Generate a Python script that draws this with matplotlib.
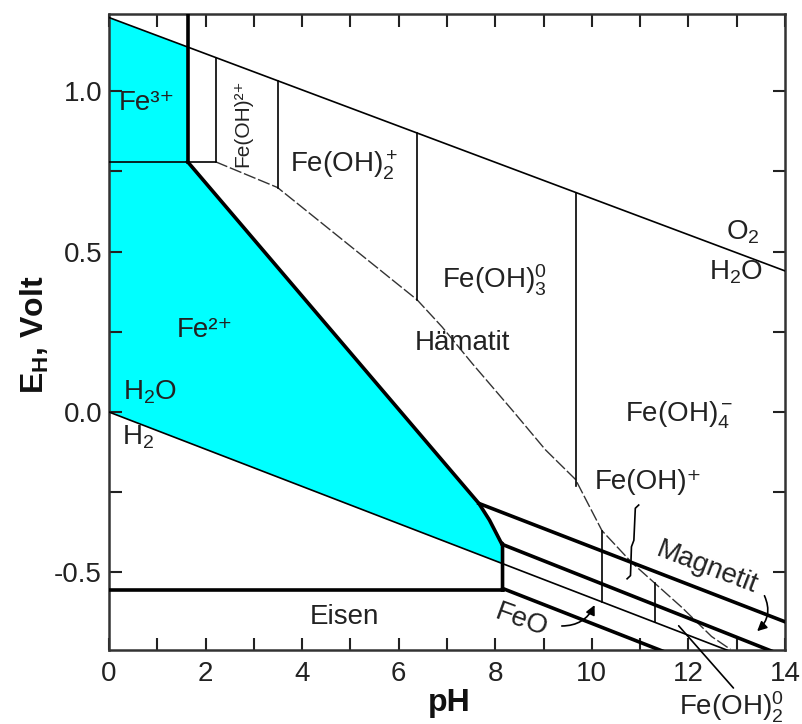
import matplotlib
matplotlib.use("Agg")
import matplotlib.pyplot as plt
import numpy as np

plt.rcParams['font.family'] = ['Liberation Sans', 'DejaVu Sans']
plt.rcParams['mathtext.fontset'] = 'custom'
plt.rcParams['mathtext.rm'] = 'Liberation Sans'
plt.rcParams['mathtext.it'] = 'Liberation Sans:italic'
plt.rcParams['mathtext.bf'] = 'Liberation Sans:bold'

# ---------------- data (pH, E_H in Volt) ----------------
o2_ph = [0, 14]
o2_e = [1.23, 0.44]
h2_ph = [0, 14]
h2_e = [0.0, -0.812]

fe3_fe2_ph = [0, 2.21]
fe3_fe2_e = [0.78, 0.78]

fe3_vert_ph = 1.63          # Fe3+ / Fe(OH)2+ thick boundary
fe3_vert_e = [0.78, 1.24]

fe2_bound_ph = [1.63, 7.66, 7.88, 8.13, 8.15, 8.15]
fe2_bound_e = [0.78, -0.285, -0.337, -0.41, -0.41, -0.555]

eisen_ph = [0, 8.15]
eisen_e = [-0.555, -0.555]

hem_ph = [2.21, 3.49, 6.38, 6.9, 7.53, 8.35, 9.04, 9.66, 10.21, 10.83, 11.87, 12.48, 12.87]
hem_e = [0.78, 0.70, 0.35, 0.265, 0.15, 0.006, -0.118, -0.21, -0.37, -0.47, -0.61, -0.70, -0.74]

upper_vert_ph = [2.21, 3.49, 6.38, 9.67]
upper_vert_bottom = [0.78, 0.70, 0.35, -0.23]

lower_vert_ph = [10.21, 11.3]
lower_vert_top = [-0.37, -0.533]

magA_ph = [7.66, 14]
magA_e = [-0.285, -0.654]
magB_ph = [8.15, 14]
magB_e = [-0.413, -0.762]
feoD_ph = [8.15, 14]
feoD_e = [-0.55, -0.895]

# cyan regions
fe3_region_ph = [0, 1.63, 1.63, 0]
fe3_region_e = [0.78, 0.78, 1.138, 1.23]

# labels
labels = [
    ('Fe³⁺', 0.78, 0.964, 0, 20),
    ('Fe²⁺', 1.98, 0.256, 0, 20),
    ('Fe(OH)²⁺', 2.77, 0.90, 90, 15),
    ('Fe(OH)$_2^+$', 4.88, 0.77, 0, 20),
    ('Fe(OH)$_3^0$', 7.98, 0.41, 0, 20),
    ('Hämatit', 7.31, 0.215, 0, 20),
    ('Fe(OH)$_4^-$', 11.8, -0.01, 0, 20),
    ('Fe(OH)⁺', 11.18, -0.218, 0, 20),
    ('Magnetit', 12.38, -0.487, -21, 20),
    ('FeO', 8.55, -0.65, -20, 20),
    ('Eisen', 4.88, -0.64, 0, 20),
    ('O$_2$', 13.12, 0.56, 0, 20),
    ('H$_2$O', 12.98, 0.437, 0, 20),
    ('H$_2$O', 0.85, 0.062, 0, 20),
    ('H$_2$', 0.6, -0.08, 0, 20),
]
feoh20_label = ('Fe(OH)$_2^0$', 12.9, -0.92)

# annotation leaders
feo_arrow = ((9.32, -0.667), (10.08, -0.594))
mag_arrow = ((13.55, -0.565), (13.38, -0.689))
feoh_bracket_ph = [10.97, 10.9, 10.87, 10.82, 10.80, 10.73]
feoh_bracket_e = [-0.29, -0.30, -0.40, -0.42, -0.51, -0.52]
feoh20_leader = ((11.76, -0.66), (12.97, -0.867))

# ---------------- figure ----------------
fig = plt.figure(figsize=(8.03, 7.24), dpi=100)
ax = fig.add_axes([109/803, 1-650/724, (785-109)/803, (650-14)/724])
ax.set_xlim(0, 14)
ax.set_ylim(-0.742, 1.241)

cyan = '#00FFFF'
ax.fill(fe3_region_ph, fe3_region_e, color=cyan, lw=0, zorder=1)
h2_at = lambda p: np.interp(p, h2_ph, h2_e)
reg_ph = [0] + fe2_bound_ph[:5] + [8.15] + [0]
reg_e = [0.78] + fe2_bound_e[:5] + [float(h2_at(8.15))] + [0.0]
ax.fill(reg_ph, reg_e, color=cyan, lw=0, zorder=1)

k = 'black'
thin = 1.2
thick = 2.6
ax.plot(o2_ph, o2_e, color=k, lw=thin, zorder=3)
ax.plot(h2_ph, h2_e, color=k, lw=thin, zorder=3)
ax.plot(fe3_fe2_ph, fe3_fe2_e, color=k, lw=thin, zorder=3)
ax.plot([fe3_vert_ph, fe3_vert_ph], fe3_vert_e, color=k, lw=thick, zorder=4)
ax.plot(fe2_bound_ph, fe2_bound_e, color=k, lw=thick, zorder=4)
ax.plot(eisen_ph, eisen_e, color=k, lw=thick, zorder=4)
ax.plot(hem_ph, hem_e, color='#333333', lw=1.0, ls=(0, (9, 2)), zorder=3)

o2_at = lambda p: np.interp(p, o2_ph, o2_e)
for p, b in zip(upper_vert_ph, upper_vert_bottom):
    ax.plot([p, p], [b, float(o2_at(p))], color=k, lw=thin, zorder=3)
for p, t in zip(lower_vert_ph, lower_vert_top):
    ax.plot([p, p], [t, float(h2_at(p))], color=k, lw=thin, zorder=3)

ax.plot(magA_ph, magA_e, color=k, lw=thick, zorder=4)
ax.plot(magB_ph, magB_e, color=k, lw=thick, zorder=4)
ax.plot(feoD_ph, feoD_e, color=k, lw=thick, zorder=4)

tc = '#222222'
for txt, x, y, rot, fs in labels:
    ax.text(x, y, txt, ha='center', va='center', rotation=rot, fontsize=fs,
            color=tc, zorder=5, rotation_mode='anchor')
ax.text(feoh20_label[1], feoh20_label[2], feoh20_label[0], ha='center', va='center',
        fontsize=20, color=tc, clip_on=False)

ax.annotate('', xy=feo_arrow[1], xytext=feo_arrow[0],
            arrowprops=dict(arrowstyle='-|>', color=k, lw=1.2, mutation_scale=14,
                            connectionstyle='arc3,rad=0.35'))
ax.annotate('', xy=mag_arrow[1], xytext=mag_arrow[0],
            arrowprops=dict(arrowstyle='-|>', color=k, lw=1.2, mutation_scale=14,
                            connectionstyle='arc3,rad=-0.4'))
ax.plot(feoh_bracket_ph, feoh_bracket_e, color=k, lw=1.2, zorder=5)
ax.annotate('', xy=feoh20_leader[0], xytext=feoh20_leader[1],
            arrowprops=dict(arrowstyle='-', color=k, lw=1.2),
            annotation_clip=False)

ax.set_xticks(np.arange(0, 15, 2))
ax.set_xticks(np.arange(1, 14, 2), minor=True)
ax.set_yticks([-0.5, 0.0, 0.5, 1.0])
ax.set_yticks([-0.25, 0.25, 0.75], minor=True)
ax.set_yticklabels(['-0.5', '0.0', '0.5', '1.0'])
ax.tick_params(which='both', direction='in', top=True, right=True, length=9,
               width=1.5, colors='#222222')
ax.tick_params(axis='x', which='major', pad=8, labelsize=20)
ax.tick_params(axis='y', which='major', pad=5, labelsize=20)
for s in ax.spines.values():
    s.set_linewidth(1.8)
    s.set_color('#333333')

fig.text(449/803, 1-703/724, 'pH', ha='center', va='center', fontsize=23,
         fontweight='bold', color='#111111')
fig.text(35/803, 1-335/724, r'$\mathbf{E_H}$, Volt', ha='center', va='center',
         rotation=90, fontsize=23, fontweight='bold', color='#111111')

fig.savefig('out.png', dpi=100)
